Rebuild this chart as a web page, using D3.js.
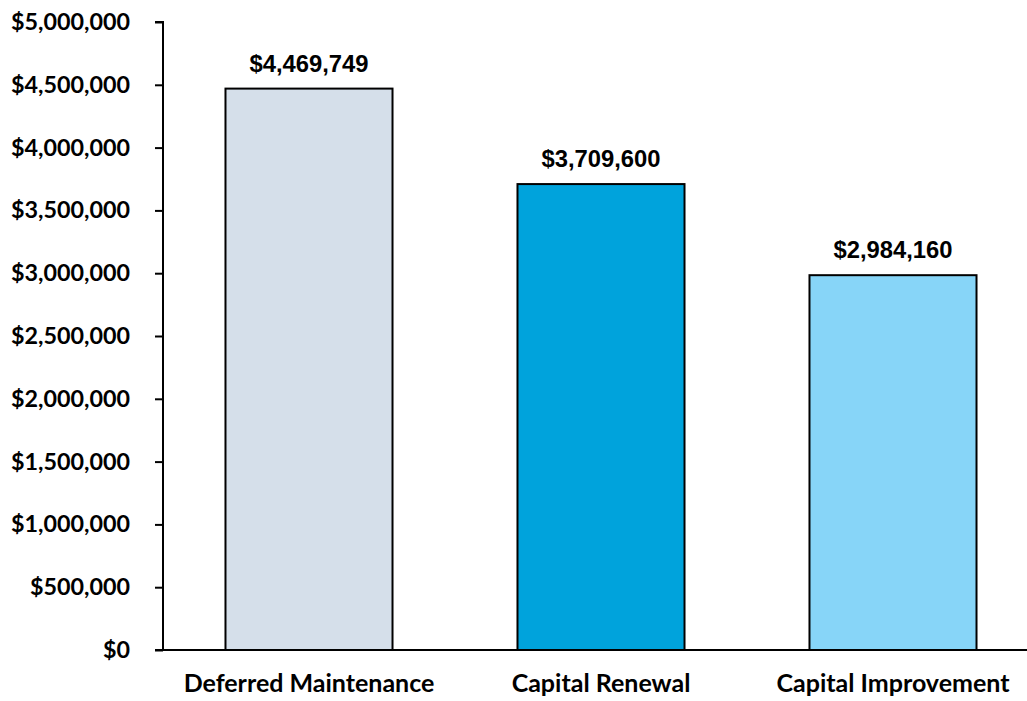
<!DOCTYPE html>
<html>
<head>
<meta charset="utf-8">
<script src="https://cdn.jsdelivr.net/npm/d3@7"></script>
<style>
  html, body { margin: 0; padding: 0; background: #ffffff; }
  svg { display: block; }
</style>
</head>
<body>
<svg id="chart" width="1027" height="701"></svg>
<script>
// Funding needs by category
const categories = ["Deferred Maintenance", "Capital Renewal", "Capital Improvement"];
const amounts = [4469749, 3709600, 2984160];
const barColors = ["#D5DFEA", "#00A3DC", "#87D5F8"];
const yTickValues = [0, 500000, 1000000, 1500000, 2000000, 2500000, 3000000, 3500000, 4000000, 4500000, 5000000];

const svg = d3.select("#chart");
const plot = { left: 163, right: 1039, top: 22, bottom: 650 };

const axisFont = "Lato, 'Open Sans', sans-serif";
const valueFont = "'Liberation Sans', Arial, sans-serif";

const x = d3.scaleBand()
  .domain(categories)
  .range([plot.left, plot.right])
  .paddingInner(0.428)
  .paddingOuter(0.214);

const y = d3.scaleLinear()
  .domain([0, 5000000])
  .range([plot.bottom, plot.top]);

const money = d3.format("$,.0f");

// Bars
svg.append("g")
  .selectAll("rect")
  .data(categories)
  .join("rect")
  .attr("x", d => x(d))
  .attr("y", (d, i) => y(amounts[i]))
  .attr("width", x.bandwidth())
  .attr("height", (d, i) => y(0) - y(amounts[i]))
  .attr("fill", (d, i) => barColors[i])
  .attr("stroke", "#000")
  .attr("stroke-width", 2);

// Value labels above bars
svg.append("g")
  .selectAll("text")
  .data(categories)
  .join("text")
  .attr("x", d => x(d) + x.bandwidth() / 2)
  .attr("y", (d, i) => y(amounts[i]) - 17)
  .attr("text-anchor", "middle")
  .style("font-family", valueFont)
  .style("font-weight", "bold")
  .style("font-size", "23.8px")
  .style("fill", "#000")
  .text((d, i) => money(amounts[i]));

// Y axis
const yAxis = d3.axisLeft(y)
  .tickValues(yTickValues)
  .tickFormat(money)
  .tickSize(8)
  .tickPadding(25);

const gy = svg.append("g")
  .attr("transform", `translate(${plot.left},0)`)
  .call(yAxis);
gy.select(".domain").attr("stroke", "#000").attr("stroke-width", 2)
  .attr("d", `M-8,${plot.top}H0V${plot.bottom}`);
gy.selectAll(".tick line").attr("stroke", "#000").attr("stroke-width", 2);
gy.selectAll(".tick text")
  .style("font-family", axisFont)
  .style("font-weight", "bold")
  .style("font-size", "23.3px")
  .style("fill", "#000");

// X axis
const xAxis = d3.axisBottom(x).tickSize(0).tickPadding(24);
const gx = svg.append("g")
  .attr("transform", `translate(0,${plot.bottom})`)
  .call(xAxis);
gx.select(".domain").attr("stroke", "#000").attr("stroke-width", 2)
  .attr("d", `M${plot.left - 8},0H${plot.right}`);
gx.selectAll(".tick text")
  .style("font-family", axisFont)
  .style("font-weight", "bold")
  .style("font-size", "25px")
  .style("fill", "#000");
</script>
</body>
</html>
